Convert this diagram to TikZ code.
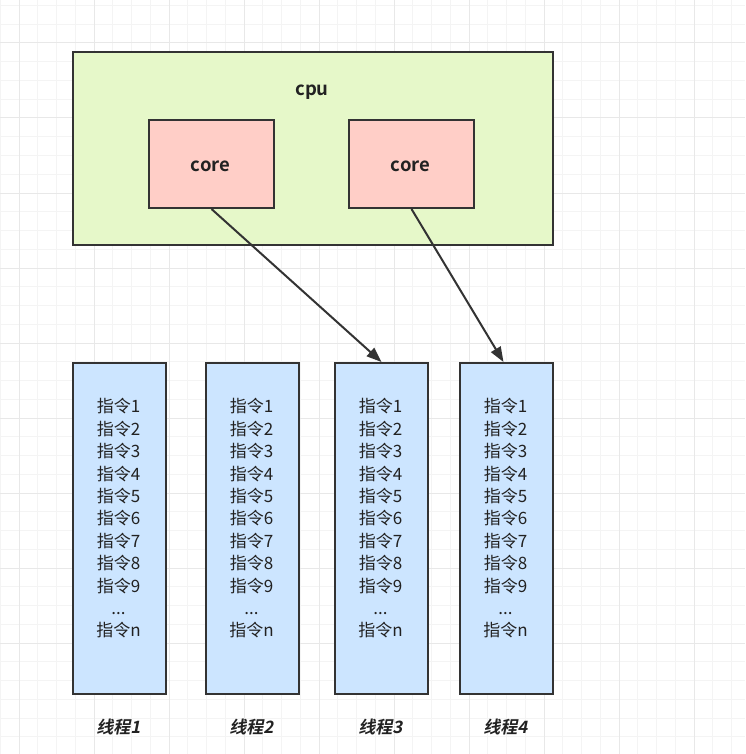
\documentclass[tikz,border=0pt]{standalone}
\usepackage{fontspec}
\setmainfont{Noto Sans CJK SC}[BoldFont={Noto Sans CJK SC Bold}, BoldItalicFont={Noto Sans CJK SC Bold}, BoldItalicFeatures={FakeSlant=0.2}]
\usetikzlibrary{arrows.meta}
\definecolor{gridminor}{HTML}{F4F4F4}
\definecolor{gridmajor}{HTML}{E8E8E8}
\definecolor{cpugreen}{HTML}{E6F8C9}
\definecolor{corepink}{HTML}{FFCEC7}
\definecolor{threadblue}{HTML}{CCE5FF}
\definecolor{edge}{HTML}{333333}
\definecolor{ink}{HTML}{222222}
\tikzset{
  box/.style={draw=edge, line width=2pt, anchor=north west, inner sep=0pt},
  corebox/.style={box, fill=corepink, minimum width=125pt, minimum height=88pt},
  threadbox/.style={box, fill=threadblue, minimum width=93pt, minimum height=331pt},
  instr/.style={align=center, text=ink, font=\fontsize{17}{22.4}\selectfont, inner sep=0pt},
  tlabel/.style={text=ink, font=\fontsize{17}{19}\selectfont\bfseries\itshape, inner sep=0pt},
  titletext/.style={text=ink, font=\fontsize{18.5}{21}\selectfont\bfseries, inner sep=0pt},
  conn/.style={draw=edge, line width=2pt, -{Triangle[length=15pt,width=11pt]}}
}
\begin{document}
\begin{tikzpicture}[x=1pt,y=-1pt]
\useasboundingbox (0,0) rectangle (745,754);
\fill[white] (0,0) rectangle (745,754);
% grid
\foreach \i in {0,...,39} {
  \draw[gridminor, line width=1pt] ({0.25+18.75*\i},0) -- ({0.25+18.75*\i},754);
  \draw[gridminor, line width=1pt] (0,{5.5+18.75*\i}) -- (745,{5.5+18.75*\i});
}
\foreach \i in {0,...,9} {
  \draw[gridmajor, line width=1pt] ({19+75*\i},0) -- ({19+75*\i},754);
  \draw[gridmajor, line width=1pt] (0,{-32+75*\i}) -- (745,{-32+75*\i});
}
% cpu
\node[box, fill=cpugreen, minimum width=480pt, minimum height=193pt] (cpu) at (72,51) {};
\node[titletext] (cputitle) at (312,92) {cpu};
\node[corebox] (core1) at (148,119) {};
\node[corebox] (core2) at (348,119) {};
\node[titletext] (core1t) at (210.5,166) {core};
\node[titletext] (core2t) at (410.5,166) {core};
% threads
\foreach \n/\x in {1/72, 2/205, 3/334, 4/459} {
  \node[threadbox] (t\n) at (\x,362) {};
  \node[instr] (t\n text) at ({\x+46.5},518.5) {指令1\\指令2\\指令3\\指令4\\指令5\\指令6\\指令7\\指令8\\指令9\\...\\指令n};
  \node[tlabel] (l\n) at ({\x+46.5},727) {线程\n};
}
\draw[conn] (core1.south) -- (t3.north);
\draw[conn] (core2.south) -- ([xshift=-3pt]t4.north);
\end{tikzpicture}
\end{document}
